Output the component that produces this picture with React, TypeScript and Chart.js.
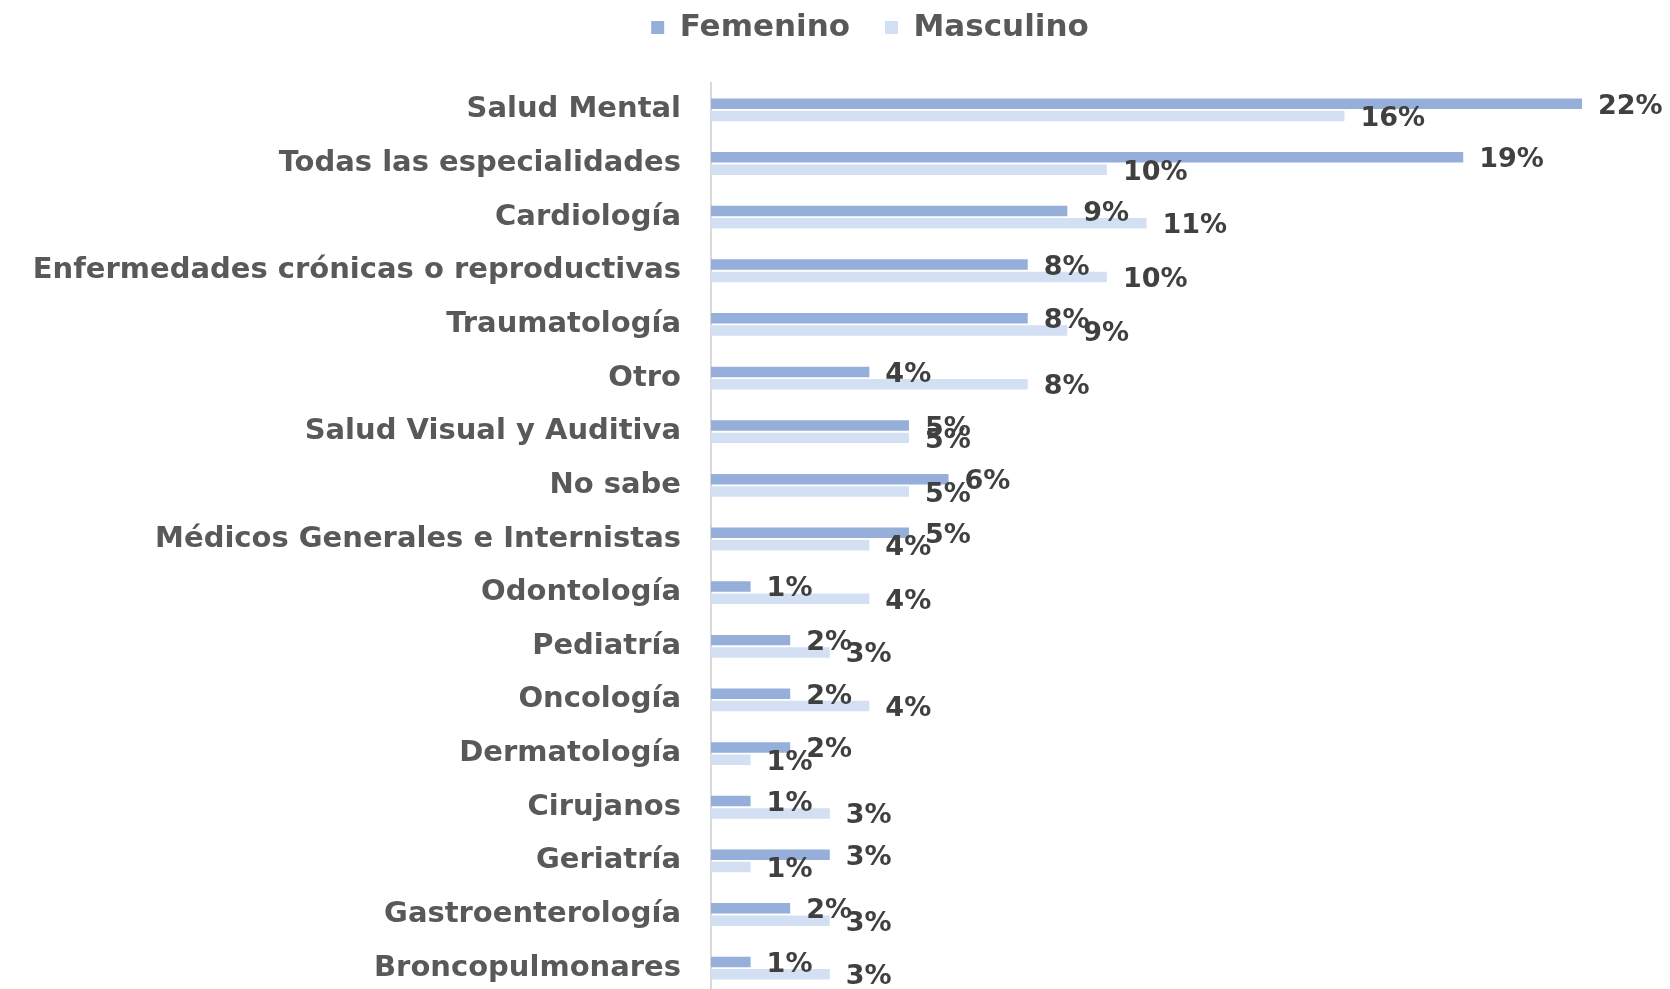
import React, { useEffect, useRef } from "react";
import { Chart, registerables } from "chart.js";

Chart.register(...registerables);

const categories = [
  "Salud Mental",
  "Todas las especialidades",
  "Cardiología",
  "Enfermedades crónicas o reproductivas",
  "Traumatología",
  "Otro",
  "Salud Visual y Auditiva",
  "No sabe",
  "Médicos Generales e Internistas",
  "Odontología",
  "Pediatría",
  "Oncología",
  "Dermatología",
  "Cirujanos",
  "Geriatría",
  "Gastroenterología",
  "Broncopulmonares",
];

const femenino = [22, 19, 9, 8, 8, 4, 5, 6, 5, 1, 2, 2, 2, 1, 3, 2, 1];
const masculino = [16, 10, 11, 10, 9, 8, 5, 5, 4, 4, 3, 4, 1, 3, 1, 3, 3];

const FONT = "'DejaVu Sans', 'Open Sans', sans-serif";

const dataLabelPlugin = {
  id: "dataLabels",
  afterDatasetsDraw(chart: any) {
    const ctx = chart.ctx;
    ctx.save();
    ctx.font = `700 27px ${FONT}`;
    ctx.fillStyle = "#404040";
    ctx.textAlign = "left";
    ctx.textBaseline = "middle";
    chart.data.datasets.forEach((ds: any, di: number) => {
      const meta = chart.getDatasetMeta(di);
      meta.data.forEach((bar: any, i: number) => {
        ctx.fillText(`${ds.data[i]}%`, bar.x + 16, bar.y + 3);
      });
    });
    ctx.restore();
  },
};

const legendSpacer = {
  id: "legendSpacer",
  beforeInit(chart: any) {
    const legend = chart.legend;
    if (!legend) return;
    const origFit = legend.fit;
    legend.fit = function () {
      origFit.call(this);
      this.height = 83;
    };
  },
  afterLayout(chart: any) {
    if (chart.legend) {
      chart.legend.left += 158;
      chart.legend.top -= 23;
    }
  },
};

export default function App() {
  const ref = useRef<HTMLCanvasElement>(null);
  useEffect(() => {
    const chart = new Chart(ref.current!, {
      type: "bar",
      data: {
        labels: categories,
        datasets: [
          {
            label: "Femenino",
            data: femenino,
            backgroundColor: "#95AEDA",
            categoryPercentage: 0.46,
            barPercentage: 0.85,
          },
          {
            label: "Masculino",
            data: masculino,
            backgroundColor: "#D3DFF3",
            categoryPercentage: 0.46,
            barPercentage: 0.85,
          },
        ],
      },
      options: {
        indexAxis: "y",
        animation: false,
        responsive: false,
        maintainAspectRatio: false,
        layout: { padding: { top: 0, right: 88, bottom: 0, left: 0 } },
        plugins: {
          legend: {
            position: "top",
            labels: {
              color: "#595959",
              font: { family: FONT, size: 31, weight: "700" },
              boxWidth: 13,
              boxHeight: 13,
              padding: 35,
            },
          },
          tooltip: { enabled: false },
        },
        scales: {
          x: {
            min: 0,
            max: 22,
            display: false,
            grid: { display: false },
          },
          y: {
            grid: { display: false, drawTicks: false },
            border: { display: true, color: "#D9D9D9", width: 2 },
            ticks: {
              color: "#595959",
              font: { family: FONT, size: 29, weight: "700" },
              padding: 30,
              autoSkip: false,
            },
            afterFit: (scale: any) => {
              scale.width = 711;
              scale.paddingTop = 0;
              scale.paddingBottom = 0;
            },
          },
        },
      },
      plugins: [dataLabelPlugin, legendSpacer],
    });
    return () => chart.destroy();
  }, []);
  return (
    <div style={{ position: "fixed", left: 0, top: 0, width: 1670, height: 989, background: "#fff", overflow: "hidden" }}>
      <canvas ref={ref} width={1670} height={995} style={{ width: 1670, height: 995, display: "block" }} />
    </div>
  );
}
